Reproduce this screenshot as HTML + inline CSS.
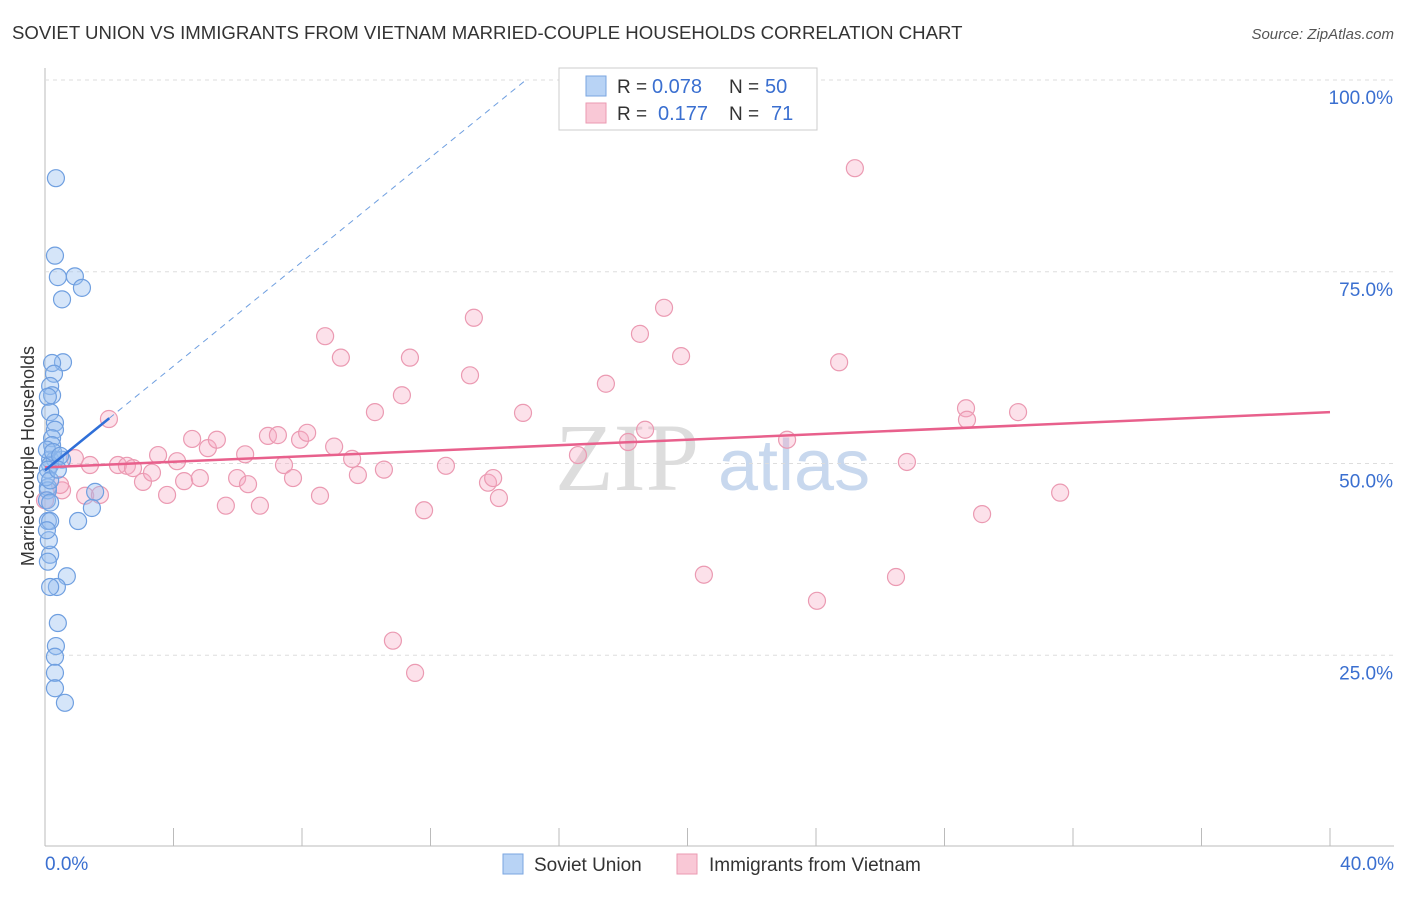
<!DOCTYPE html>
<html><head><meta charset="utf-8"><style>
body{margin:0;background:#fff;font-family:"Liberation Sans",sans-serif;}
</style></head><body>
<svg id="c" width="1406" height="892" xmlns="http://www.w3.org/2000/svg">
<text x="12" y="39" font-size="18.6" fill="#333">SOVIET UNION VS IMMIGRANTS FROM VIETNAM MARRIED-COUPLE HOUSEHOLDS CORRELATION CHART</text>
<text x="1394" y="39" font-size="15" fill="#555" font-style="italic" text-anchor="end">Source: ZipAtlas.com</text>
<text x="34" y="456" font-size="18" fill="#333" transform="rotate(-90 34 456)" text-anchor="middle">Married-couple Households</text>
<text x="555" y="490" font-size="96" fill="#ddd" font-family="Liberation Serif,serif">ZIP</text>
<text x="718" y="490" font-size="72" fill="#c8d8ee">atlas</text>
<g id="grid"></g><g id="pts"></g><g id="lines"></g>
<g>
<rect x="559" y="68" width="258" height="62" fill="#fff" stroke="#ccc"/>
<rect x="586" y="76" width="20" height="20" fill="#b8d3f5" stroke="#7aa6e0"/>
<rect x="586" y="103" width="20" height="20" fill="#f9c8d6" stroke="#eb9ab2"/>
<text x="617" y="93" font-size="19" fill="#333">R =</text>
<text x="652" y="93" font-size="20" fill="#3a6fd0">0.078</text>
<text x="729" y="93" font-size="19" fill="#333">N =</text>
<text x="765" y="93" font-size="20" fill="#3a6fd0">50</text>
<text x="617" y="120" font-size="19" fill="#333">R =</text>
<text x="658" y="120" font-size="20" fill="#3a6fd0">0.177</text>
<text x="729" y="120" font-size="19" fill="#333">N =</text>
<text x="771" y="120" font-size="20" fill="#3a6fd0">71</text>
</g>
<g>
<rect x="503" y="854" width="20" height="20" fill="#b8d3f5" stroke="#7aa6e0"/>
<text x="534" y="871" font-size="19" fill="#333">Soviet Union</text>
<rect x="677" y="854" width="20" height="20" fill="#f9c8d6" stroke="#eb9ab2"/>
<text x="709" y="871" font-size="19" fill="#333">Immigrants from Vietnam</text>
</g>
</svg>
<script>
const blueX=[0.34,0.31,0.40,0.93,1.15,0.53,0.56,0.22,0.28,0.16,0.22,0.09,0.16,0.31,0.31,0.22,0.22,0.16,0.31,0.53,0.16,0.09,0.09,0.09,1.56,1.46,1.03,0.09,0.16,0.16,0.09,0.68,0.37,0.16,0.40,0.34,0.31,0.31,0.31,0.62,0.03,0.06,0.16,0.12,0.06,0.25,0.47,0.06,0.16,0.40];
const blueY=[87.2,77.1,74.3,74.4,72.9,71.4,63.2,63.1,61.7,60.1,58.9,58.7,56.7,55.3,54.4,53.3,52.4,50.5,50.5,50.5,49.8,49.2,46.9,46.5,46.3,44.2,42.5,42.5,42.5,38.1,37.2,35.3,33.9,33.9,29.2,26.2,24.8,22.7,20.7,18.8,48.2,45.2,44.9,40.0,51.8,51.5,51.0,41.3,47.8,49.2];
const pinkX=[1.99,0.93,0.53,1.25,1.71,0.47,1.40,2.27,2.55,2.74,3.05,3.33,3.52,3.80,4.11,4.33,4.58,4.82,5.07,5.35,5.63,5.98,6.23,6.32,6.69,6.94,7.25,7.44,7.72,7.94,8.16,8.56,8.72,9.00,9.21,9.56,9.74,10.27,10.55,10.83,11.11,11.36,11.52,11.80,12.48,13.23,13.35,13.79,13.95,14.13,14.88,16.59,17.46,18.15,18.52,18.68,19.27,19.80,20.51,23.10,24.03,24.72,25.21,26.49,26.83,28.67,28.70,29.17,30.29,31.60,0.0];
const pinkY=[55.8,50.7,46.5,45.8,45.9,47.2,49.8,49.8,49.7,49.4,47.6,48.8,51.1,45.9,50.3,47.7,53.2,48.1,52.0,53.1,44.5,48.1,51.2,47.3,44.5,53.6,53.7,49.8,48.1,53.1,54.0,45.8,66.6,52.2,63.8,50.6,48.5,56.7,49.2,26.9,58.9,63.8,22.7,43.9,49.7,61.5,69.0,47.5,48.1,45.5,56.6,51.1,60.4,52.8,66.9,54.4,70.3,64.0,35.5,53.1,32.1,63.2,88.5,35.2,50.2,57.2,55.7,43.4,56.7,46.2,45.2];
const yTicks=[25,50,75,100];
const xTicks=[0,4,8,12,16,20,24,28,32,36,40];
const pinkTrend=[49.5,0.18];
const blueTrend=[49.1,3.4];
const X=v=>45+v*32.125, Y=v=>847-v*7.67;
const NS="http://www.w3.org/2000/svg";
function mk(p,tag,a){const e=document.createElementNS(NS,tag);for(const k in a)e.setAttribute(k,a[k]);p.appendChild(e);return e;}
const g=document.getElementById('grid');
let ax=mk(g,'line',{x1:45,y1:68,x2:45,y2:846,stroke:'#bbb'});


let bx=mk(g,'line',{x1:45,y1:846,x2:1394,y2:846,stroke:'#bbb'});


yTicks.forEach(t=>{
 let l=mk(g,'line',{x1:45,y1:Y(t),x2:1394,y2:Y(t),stroke:'#ddd','stroke-dasharray':'4,4'});
 
 
 let tx=mk(g,'text',{x:1393,y:Y(t)+24,'font-size':19,fill:'#3a6fd0','text-anchor':'end'});tx.textContent=t.toFixed(1)+'%';
 
 
});
xTicks.forEach(t=>{
 let l=mk(g,'line',{x1:X(t),y1:828,x2:X(t),y2:846,stroke:'#bbb'});
 
 
});
[[0,45,'start'],[40,1394,'end']].forEach(([t,x,a])=>{
 let tx=mk(g,'text',{x:x,y:870,'font-size':19,fill:'#3a6fd0','text-anchor':a});tx.textContent=t.toFixed(1)+'%';
 
 
});
const p=document.getElementById('pts');
pinkX.forEach((x,i)=>{
 let c=mk(p,'circle',{cx:X(x),cy:Y(pinkY[i]),r:8.5,fill:'rgba(246,170,195,0.35)',stroke:'#eb9ab2','stroke-width':1.2});
 
 
});
blueX.forEach((x,i)=>{
 let c=mk(p,'circle',{cx:X(x),cy:Y(blueY[i]),r:8.5,fill:'rgba(150,190,240,0.4)',stroke:'#6f9fe0','stroke-width':1.2});
 
 
});
const L=document.getElementById('lines');
let pl=mk(L,'line',{x1:X(0),y1:Y(pinkTrend[0]),x2:X(40),y2:Y(pinkTrend[0]+40*pinkTrend[1]),stroke:'#e8608c','stroke-width':2.5});


const bEnd=(100-blueTrend[0])/blueTrend[1];
let bd=mk(L,'line',{x1:X(2),y1:Y(blueTrend[0]+2*blueTrend[1]),x2:X(bEnd),y2:Y(100),stroke:'#6f9fe0','stroke-width':1,'stroke-dasharray':'6,5'});


let bl=mk(L,'line',{x1:X(0),y1:Y(blueTrend[0]),x2:X(2),y2:Y(blueTrend[0]+2*blueTrend[1]),stroke:'#2f6fd8','stroke-width':2.5});


</script>
</body></html>
